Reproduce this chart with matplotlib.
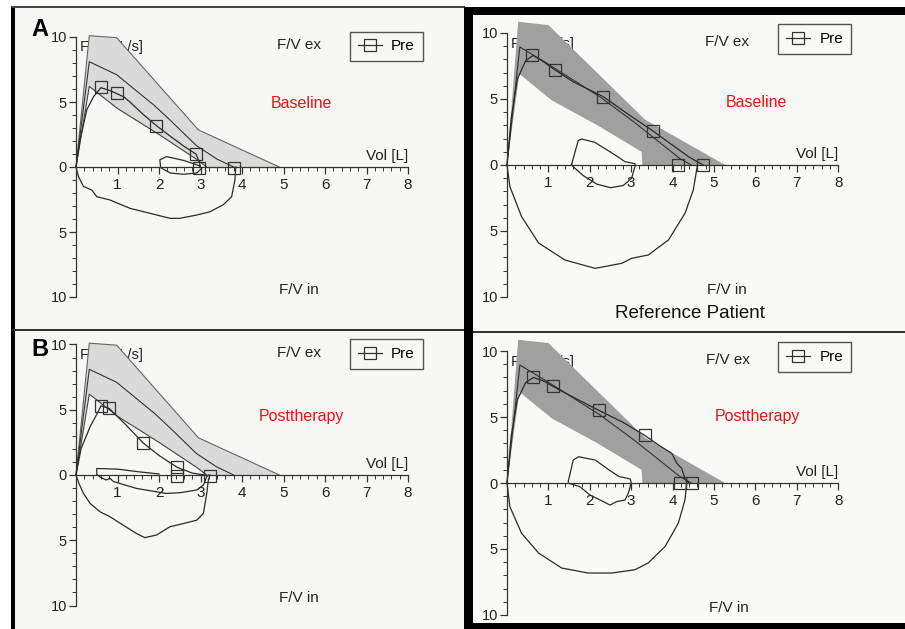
import matplotlib
matplotlib.use('Agg')
import matplotlib.pyplot as plt
from matplotlib.patches import Rectangle
from matplotlib.lines import Line2D
from matplotlib.ticker import FixedLocator, FuncFormatter
import numpy as np

plt.rcParams['font.family'] = ['Liberation Sans', 'DejaVu Sans']

# predicted band, patient panels (A and B)
pred_l_upper_x = [0, 0.32, 0.98, 2.95, 4.9]
pred_l_upper_y = [0, 10.1, 9.95, 2.85, 0]
pred_l_mid_x = [0, 0.32, 0.98, 1.9, 2.27, 2.9, 3.4, 3.8]
pred_l_mid_y = [0, 8.1, 7.1, 4.7, 3.6, 1.65, 0.6, 0]
pred_l_low_x = [0, 0.32, 1.0, 2.0, 2.9, 3.15]
pred_l_low_y = [0, 6.2, 4.5, 2.5, 0.6, 0]

# predicted band, reference patient panels
pred_r_upper_x = [0, 0.27, 1.0, 3.33, 5.27]
pred_r_upper_y = [0, 10.85, 10.6, 3.45, 0]
pred_r_mid_x = [0, 0.31, 0.98, 2.25, 3.05, 4.18, 4.45]
pred_r_mid_y = [0, 8.94, 7.67, 5.15, 3.3, 0.48, 0]
pred_r_low_x = [0, 0.3, 1.08, 2.19, 3.09, 3.25, 3.27]
pred_r_low_y = [0, 6.9, 4.9, 3.0, 1.3, 1.0, 0]

# A - patient baseline
a_ex_x = [0, 0.1, 0.26, 0.42, 0.6, 0.8, 0.98, 1.15, 1.3, 1.6, 1.93, 2.3, 2.6, 2.89, 2.97, 3.0]
a_ex_y = [0, 2.1, 4.4, 5.4, 6.1, 5.9, 5.65, 5.4, 5.0, 4.1, 3.2, 2.3, 1.6, 1.0, 0.4, 0]
a_loop_x = [2.97, 2.6, 2.18, 2.02, 2.04, 2.27, 2.59, 2.91, 3.03, 2.97]
a_loop_y = [0.1, 0.5, 0.8, 0.55, -0.05, -0.46, -0.56, -0.46, -0.1, 0.1]
a_in_x = [0, 0.06, 0.18, 0.38, 0.5, 0.82, 1.3, 1.78, 2.27, 2.5, 2.9, 3.23, 3.55, 3.75, 3.83, 3.85]
a_in_y = [0, -0.74, -1.5, -1.77, -2.28, -2.54, -3.18, -3.56, -3.95, -3.95, -3.7, -3.44, -2.9, -2.28, -1.0, 0]
a_mk_x = [0.6, 0.98, 1.93, 2.89, 2.97, 3.81]
a_mk_y = [6.13, 5.67, 3.18, 1.0, -0.05, -0.05]

# B - patient posttherapy
b_ex_x = [0, 0.12, 0.34, 0.5, 0.6, 0.8, 1.2, 1.62, 2.0, 2.43, 2.8, 3.1]
b_ex_y = [0, 2.0, 3.7, 4.65, 5.3, 5.1, 3.85, 2.45, 1.5, 0.6, 0.15, 0]
b_loop_x = [2.0, 1.5, 1.0, 0.5, 0.5, 0.6, 0.73, 0.82, 0.9, 1.46, 2.17, 2.5, 2.91, 3.07, 3.15, 3.2]
b_loop_y = [0.08, 0.25, 0.45, 0.5, 0.05, -0.2, -0.38, -0.25, -0.5, -1.03, -1.41, -1.36, -1.15, -0.77, -0.13, 0]
b_in_x = [0, 0.07, 0.18, 0.34, 0.58, 0.82, 1.14, 1.46, 1.66, 1.94, 2.26, 2.59, 2.91, 3.07, 3.15, 3.19, 3.23]
b_in_y = [0, -0.64, -1.41, -2.18, -2.82, -3.2, -3.85, -4.49, -4.8, -4.6, -3.97, -3.72, -3.46, -2.95, -1.41, -0.38, 0]
b_mk_x = [0.6, 0.8, 1.62, 2.43, 2.43, 3.23]
b_mk_y = [5.31, 5.1, 2.46, 0.58, -0.1, -0.1]

# C - reference patient baseline
c_ex_x = [0, 0.1, 0.25, 0.45, 0.63, 0.85, 1.16, 1.6, 2.33, 2.9, 3.53, 4.0, 4.4, 4.74]
c_ex_y = [0, 3.5, 6.5, 7.9, 8.3, 7.9, 7.2, 6.3, 5.17, 3.9, 2.57, 1.5, 0.6, 0]
c_loop_x = [1.56, 1.72, 1.8, 2.12, 2.61, 2.85, 3.09, 3.09, 3.01, 2.81, 2.5, 2.17, 1.84, 1.6, 1.56]
c_loop_y = [0.04, 1.84, 1.97, 1.72, 0.76, 0.25, 0.1, -0.13, -1.0, -1.55, -1.72, -1.45, -0.8, -0.13, 0.04]
c_in_x = [0, 0.07, 0.35, 0.76, 1.4, 2.13, 2.77, 3.01, 3.41, 3.9, 4.3, 4.5, 4.58, 4.6]
c_in_y = [0, -1.64, -3.9, -5.9, -7.2, -7.83, -7.45, -7.07, -6.82, -5.68, -3.66, -1.89, -0.38, 0]
c_mk_x = [0.6, 1.16, 2.33, 3.53, 4.14, 4.74]
c_mk_y = [8.35, 7.2, 5.17, 2.57, 0.0, 0.0]

# D - reference patient posttherapy
d_ex_x = [0, 0.1, 0.25, 0.45, 0.64, 0.9, 1.12, 1.6, 2.22, 2.8, 3.33, 3.7, 3.98, 4.1, 4.22, 4.3, 4.4]
d_ex_y = [0, 3.5, 6.3, 7.6, 8.0, 7.7, 7.3, 6.5, 5.5, 4.6, 3.6, 2.8, 2.25, 1.5, 1.1, 0.3, 0]
d_loop_x = [1.48, 1.6, 1.73, 2.13, 2.46, 2.7, 2.98, 3.0, 2.93, 2.85, 2.65, 2.49, 2.25, 2.0, 1.76, 1.48]
d_loop_y = [0.12, 1.74, 1.99, 1.74, 1.0, 0.5, 0.3, 0, -0.78, -1.29, -1.41, -1.67, -1.29, -0.9, -0.28, 0]
d_in_x = [0, 0.07, 0.35, 0.76, 1.32, 1.96, 2.53, 3.09, 3.41, 3.82, 4.14, 4.3, 4.34]
d_in_y = [0, -1.79, -3.8, -5.3, -6.44, -6.82, -6.82, -6.57, -6.06, -4.8, -3.03, -1.26, 0]
d_mk_x = [0.64, 1.12, 2.22, 3.33, 4.18, 4.48]
d_mk_y = [8.06, 7.35, 5.53, 3.64, 0.0, 0.0]

W, H = 905, 629
XLIM = (-1.7, 9.3)
YLIM = (-11.5, 11.5)
bg = '#f7f7f5'
ink = '#2a2a2a'

fig = plt.figure(figsize=(W / 100, H / 100), dpi=100)
fig.patch.set_facecolor('white')


def px_rect(x0, y0, x1, y1, color):
    # rectangle given in image pixels (origin top-left)
    fig.add_artist(Rectangle((x0 / W, 1 - y1 / H), (x1 - x0) / W, (y1 - y0) / H,
                             transform=fig.transFigure, facecolor=color,
                             edgecolor='none', zorder=0))


# page backgrounds and frame lines
px_rect(12, 7, 465, 629, bg)
px_rect(465, 7, 905, 629, '#f9f9f7')
px_rect(11, 7, 15, 629, 'black')
px_rect(11, 6, 465, 8, '#444444')
px_rect(12, 329, 465, 331, '#333333')
px_rect(473, 331, 905, 333, '#333333')
px_rect(464, 7, 473, 629, 'black')
px_rect(464, 7, 905, 15, 'black')
px_rect(464, 623, 905, 629, 'black')


def make_axes(ox, oy, sx, sy):
    left = ox + XLIM[0] * sx
    right = ox + XLIM[1] * sx
    top = oy - YLIM[1] * sy
    bottom = oy - YLIM[0] * sy
    ax = fig.add_axes([left / W, 1 - bottom / H, (right - left) / W, (bottom - top) / H])
    ax.set_xlim(*XLIM)
    ax.set_ylim(*YLIM)
    ax.patch.set_alpha(0)
    for s in ['top', 'right']:
        ax.spines[s].set_visible(False)
    ax.spines['left'].set_position(('data', 0))
    ax.spines['bottom'].set_position(('data', 0))
    ax.spines['left'].set_bounds(-10, 10)
    ax.spines['bottom'].set_bounds(0, 8)
    for s in ['left', 'bottom']:
        ax.spines[s].set_color('#333333')
        ax.spines[s].set_linewidth(0.9)
        ax.spines[s].set_zorder(3)
    ax.xaxis.set_major_locator(FixedLocator(np.arange(1, 9)))
    ax.xaxis.set_minor_locator(FixedLocator(np.arange(0, 8.01, 0.2)))
    ax.yaxis.set_major_locator(FixedLocator([-10, -5, 0, 5, 10]))
    ax.yaxis.set_minor_locator(FixedLocator(np.arange(-10, 11, 1)))
    ax.yaxis.set_major_formatter(FuncFormatter(lambda v, p: f'{abs(v):g}'))
    ax.tick_params(which='major', direction='out', length=5, width=0.9,
                   color='#333333', labelsize=11, labelcolor='#222222')
    ax.tick_params(which='minor', direction='out', length=3, width=0.7, color='#333333')
    ax.tick_params(axis='x', pad=3)
    ax.tick_params(axis='y', pad=1.5, labelsize=10.5)
    return ax


def draw_panel(ax, pred, band_color, edge, ex, loop, insp, mk, label, fvx, legend_xy):
    up_x, up_y, mid_x, mid_y, lo_x, lo_y = pred
    # axis title sits under the band
    ax.text(0.1, 9.2, 'Flow [L/s]', fontsize=10.5, ha='left', va='center', color='#222222', zorder=1)
    ax.fill(list(up_x) + list(lo_x[::-1]), list(up_y) + list(lo_y[::-1]),
            color=band_color, lw=0, zorder=2)
    if edge:
        ax.plot(up_x, up_y, color='#666666', lw=0.8, zorder=3)
        ax.plot(lo_x, lo_y, color='#444444', lw=0.8, zorder=3)
    ax.plot(mid_x, mid_y, color='#333333', lw=0.8, zorder=3)
    ax.plot(ex[0], ex[1], color=ink, lw=0.9, zorder=3)
    ax.plot(loop[0], loop[1], color=ink, lw=0.9, zorder=3)
    ax.plot(insp[0], insp[1], color=ink, lw=0.9, zorder=3)
    ax.plot(mk[0], mk[1], ls='none', marker='s', ms=8, mfc='none', mec='#333333', mew=0.9, zorder=4)

    ax.text(fvx, 9.35, 'F/V ex', fontsize=11, ha='center', va='center', color='#222222')
    ax.text(fvx, -9.45, 'F/V in', fontsize=11, ha='center', va='center', color='#222222')
    ax.text(8.0, 0.85, 'Vol [L]', fontsize=11, ha='right', va='center', color='#222222')
    ax.text(label[1], label[2], label[0], fontsize=11.5, color='#ee1111', ha='center', va='center')

    h = Line2D([], [], color='#333333', lw=0.9, marker='s', ms=8, mfc='none', mew=0.9)
    ax.legend(handles=[h], labels=['Pre'], loc='upper left', bbox_to_anchor=legend_xy,
              bbox_transform=ax.transData, fontsize=11, frameon=True, fancybox=False,
              edgecolor='#555555', facecolor='none', framealpha=1, borderpad=0.5,
              handlelength=1.6, handletextpad=0.6, borderaxespad=0)


pred_l = (pred_l_upper_x, pred_l_upper_y, pred_l_mid_x, pred_l_mid_y, pred_l_low_x, pred_l_low_y)
pred_r = (pred_r_upper_x, pred_r_upper_y, pred_r_mid_x, pred_r_mid_y, pred_r_low_x, pred_r_low_y)

ax_a = make_axes(76, 167, 41.5, 13.0)
draw_panel(ax_a, pred_l, '#dadada', True, (a_ex_x, a_ex_y), (a_loop_x, a_loop_y),
           (a_in_x, a_in_y), (a_mk_x, a_mk_y), ('Baseline', 5.44, 4.9), 5.37, (6.6, 10.4))

ax_b = make_axes(76, 475, 41.5, 13.05)
draw_panel(ax_b, pred_l, '#dadada', True, (b_ex_x, b_ex_y), (b_loop_x, b_loop_y),
           (b_in_x, b_in_y), (b_mk_x, b_mk_y), ('Posttherapy', 5.44, 4.5), 5.37, (6.6, 10.4))

ax_c = make_axes(507, 165, 41.4, 13.2)
draw_panel(ax_c, pred_r, '#a0a0a0', False, (c_ex_x, c_ex_y), (c_loop_x, c_loop_y),
           (c_in_x, c_in_y), (c_mk_x, c_mk_y), ('Baseline', 6.03, 4.72), 5.32, (6.55, 10.66))

ax_d = make_axes(507, 483, 41.4, 13.2)
draw_panel(ax_d, pred_r, '#a0a0a0', False, (d_ex_x, d_ex_y), (d_loop_x, d_loop_y),
           (d_in_x, d_in_y), (d_mk_x, d_mk_y), ('Posttherapy', 6.04, 5.07), 5.35, (6.55, 10.66))

# panel letters and caption
fig.text(40 / W, 1 - 30 / H, 'A', fontsize=17, fontweight='bold', ha='center', va='center')
fig.text(40 / W, 1 - 350 / H, 'B', fontsize=17, fontweight='bold', ha='center', va='center')
fig.text(690 / W, 1 - 313 / H, 'Reference Patient', fontsize=13.5, ha='center', va='center',
         color='#111111')

fig.savefig('out.png', dpi=100)
